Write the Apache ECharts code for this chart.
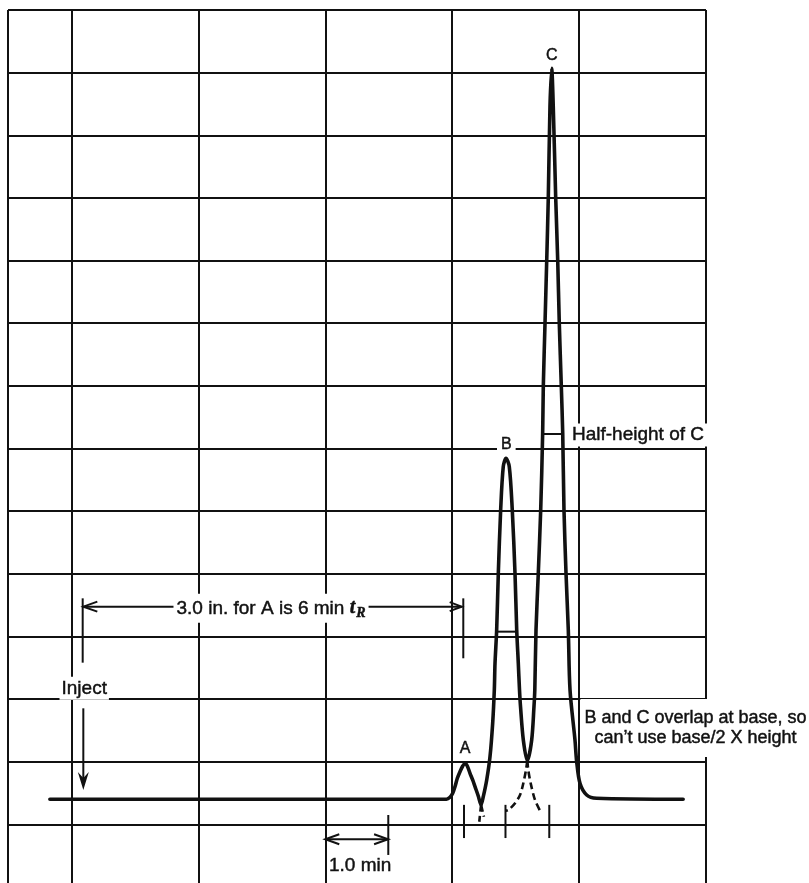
<!DOCTYPE html>
<html>
<head>
<meta charset="utf-8">
<title>Chromatogram – retention time and half-height width</title>
<script src="https://cdn.jsdelivr.net/npm/echarts@6/dist/echarts.min.js"></script>
<style>
html,body{margin:0;padding:0;background:#fff;}
#chart{width:809px;height:883px;}
</style>
</head>
<body>
<div id="chart"></div>
<script>
// ---- Chart-paper rulings (x in minutes after injection, y in chart divisions) ----
const gridTimes = [-1.2, -0.2, 1.8, 3.8, 5.8, 7.8, 9.8];

// ---- Recorder trace (pen deflection, chart divisions) ----
const traceTime = [-0.54, 5.71, 5.765, 5.808, 5.844, 5.881, 5.923, 5.966, 6.002, 6.038, 6.081, 6.123, 6.160, 6.211, 6.255,
  6.290, 6.344, 6.396, 6.438, 6.464, 6.475, 6.501, 6.527, 6.564, 6.605, 6.648, 6.700, 6.747, 6.790, 6.817, 6.842, 6.861, 6.877, 6.921, 6.984,
  7.053, 7.089, 7.102, 7.121, 7.157, 7.195, 7.226, 7.236, 7.263, 7.290, 7.315, 7.341, 7.368, 7.393, 7.431, 7.463, 7.488, 7.520, 7.542,
  7.562, 7.594, 7.630, 7.657, 7.735, 7.762, 7.814, 7.920, 8.077, 9.44];
const traceSignal = [0.40, 0.40, 0.431, 0.495, 0.600, 0.734, 0.839, 0.930, 0.974, 0.930, 0.814, 0.707, 0.600, 0.452, 0.31,
  0.440, 0.707, 1.079, 1.612, 2.144, 2.570, 3.102, 4.007, 5.017, 5.709, 5.843, 5.709, 5.017, 4.007, 3.102, 2.570, 2.144, 1.877, 1.346, 1.015,
  1.346, 1.877, 2.144, 3.102, 4.007, 5.017, 6.247, 6.986, 7.998, 9.009, 10.019, 11.456, 12.07, 11.456, 10.019, 9.009, 7.998, 6.986, 6.247,
  5.017, 4.007, 3.102, 2.144, 1.346, 0.999, 0.654, 0.467, 0.415, 0.40];

// ---- Dashed extrapolations of overlapped flanks ----
const extCLeftTime = [6.984, 6.963, 6.921, 6.869, 6.790, 6.690, 6.645];
const extCLeftSignal = [1.015, 0.867, 0.654, 0.467, 0.335, 0.230, 0.215];
const extBRightTime = [6.984, 6.999, 7.037, 7.105, 7.184];
const extBRightSignal = [1.015, 0.867, 0.654, 0.388, 0.217];
const extBLeftTime = [6.255, 6.227];
const extBLeftSignal = [0.31, 0.04];
const extARightTime = [6.255, 6.300];
const extARightSignal = [0.31, 0.12];

// ---- Peak labels and peak-base tick marks ----
const peakNames = ['A', 'B', 'C'];
const peakLabelTime = [6.002, 6.653, 7.368];
const peakLabelSignal = [1.207, 6.063, 12.277];
const baseTickTimes = [5.986, 6.640, 7.330];
const baseTickSignal = [0.31, -0.22];

// ---- Half-height width bars [tStart, tEnd, signal] ----
const halfBarB = [6.511, 6.806, 3.075];
const halfBarC = [7.236, 7.531, 6.231];

const INK = '#111';
const FONT = '"Liberation Sans", Arial, Helvetica, sans-serif';
const SERIF = '"Liberation Serif", "DejaVu Serif", serif';
const pair = (xs, ys) => xs.map((x, i) => [x, ys[i]]);
const dashStyle = { color: INK, width: 2.6, type: [7, 4] };

const chart = echarts.init(document.getElementById('chart'), null, { renderer: 'canvas' });

const dashedSeries = (name, xs, ys) => ({
  name, type: 'line', data: pair(xs, ys), showSymbol: false, symbol: 'none', smooth: 0.3,
  lineStyle: dashStyle, silent: true, z: 4
});

const option = {
  animation: false,
  backgroundColor: '#fff',
  grid: { left: 8, top: 10, width: 698, height: 876.9, containLabel: false, outerBoundsMode: 'none' },
  xAxis: {
    type: 'value', min: -1.2, max: 9.8,
    axisLine: { show: false }, axisTick: { show: false }, axisLabel: { show: false }, splitLine: { show: false }
  },
  yAxis: {
    type: 'value', min: -1, max: 13, interval: 1,
    axisLine: { show: false }, axisTick: { show: false }, axisLabel: { show: false },
    splitLine: { show: true, lineStyle: { color: INK, width: 2 } }
  },
  series: [
    {
      name: 'rulings', type: 'line', data: [], silent: true, z: 1,
      markLine: {
        silent: true, symbol: 'none', label: { show: false }, animation: false,
        lineStyle: { color: INK, width: 2, type: 'solid' },
        emphasis: { disabled: true },
        data: gridTimes.map(v => ({ xAxis: v }))
      }
    },
    {
      name: 'trace', type: 'line', data: pair(traceTime, traceSignal),
      showSymbol: false, symbol: 'none', smooth: 0.3, silent: true, z: 5,
      lineStyle: { color: INK, width: 3.6, cap: 'round', join: 'round' }
    },
    dashedSeries('C left extension', extCLeftTime, extCLeftSignal),
    dashedSeries('B right extension', extBRightTime, extBRightSignal),
    dashedSeries('B left extension', extBLeftTime, extBLeftSignal),
    dashedSeries('A right extension', extARightTime, extARightSignal)
  ]
};
chart.setOption(option);

// ---- Annotations, positioned through the chart's own scales ----
const P = (t, y) => chart.convertToPixel({ seriesIndex: 1 }, [t, y]);
const g = [];
function seg(a, b, w) {
  const p = P(a[0], a[1]), q = P(b[0], b[1]);
  g.push({ type: 'line', z: 100, silent: true,
    shape: { x1: p[0], y1: p[1], x2: q[0], y2: q[1] },
    style: { stroke: INK, lineWidth: w || 2 } });
}
function head(tipD, fromD, L, W, filled, notch) {
  const tip = P(tipD[0], tipD[1]), from = P(fromD[0], fromD[1]);
  let dx = from[0] - tip[0], dy = from[1] - tip[1];
  const n = Math.hypot(dx, dy); dx /= n; dy /= n;
  const nx = -dy, ny = dx;
  const b1 = [tip[0] + dx * L + nx * W, tip[1] + dy * L + ny * W];
  const b2 = [tip[0] + dx * L - nx * W, tip[1] + dy * L - ny * W];
  if (filled) {
    g.push({ type: 'polygon', z: 101, silent: true,
      shape: { points: [tip, b1, [tip[0] + dx * notch, tip[1] + dy * notch], b2] },
      style: { fill: INK } });
  } else {
    g.push({ type: 'polyline', z: 101, silent: true,
      shape: { points: [b1, tip, b2] },
      style: { stroke: INK, lineWidth: 2, fill: 'none' } });
  }
}
function txt(t, y, text, o) {
  o = o || {};
  const p = P(t, y);
  g.push({ type: 'text', z: 110, silent: true, x: p[0], y: p[1],
    style: { text, fill: INK, stroke: INK, lineWidth: 0.45, fontFamily: FONT, fontSize: o.size || 19,
      align: o.align || 'left', verticalAlign: 'middle', lineHeight: o.lh,
      backgroundColor: '#fff', padding: o.pad || [1, 2], rich: o.rich } });
}

// 3.0 in. retention-time arrow (injection to peak A)
seg([-0.023, 3.607], [-0.023, 2.580]);
seg([5.975, 3.607], [5.975, 2.650]);
seg([-0.013, 3.474], [5.950, 3.474]);
head([-0.013, 3.474], [5.950, 3.474], 14, 5, false);
head([5.950, 3.474], [-0.013, 3.474], 12, 4.5, false);
txt(1.408, 3.448, '3.0 in. for A is 6 min {t|t}{r|R}', {
  pad: [2, 3],
  rich: {
    t: { fontFamily: SERIF, fontStyle: 'italic', fontWeight: 'bold', fontSize: 20, fill: INK },
    r: { fontFamily: SERIF, fontStyle: 'italic', fontWeight: 'bold', fontSize: 14, fill: INK, padding: [11, 0, 0, 1] }
  }
});

// Inject
txt(0.001, 2.171, 'Inject', { align: 'center', pad: [2, 2] });
seg([-0.013, 1.851], [-0.013, 0.65]);
head([-0.013, 0.547], [-0.013, 1.851], 18, 5.5, true, 12);

// 1.0 min scale
seg([4.793, 0.148], [4.793, -0.490]);
seg([3.80, -0.239], [4.79, -0.239]);
head([3.80, -0.239], [4.79, -0.239], 14, 5, false);
head([4.79, -0.239], [3.80, -0.239], 14, 5, false);
txt(3.843, -0.666, '1.0 min', { pad: [1, 1] });

// Base ticks under the peaks
baseTickTimes.forEach(t => seg([t, baseTickSignal[0]], [t, baseTickSignal[1]]));

// Half-height bars
seg([halfBarB[0], halfBarB[2]], [halfBarB[1], halfBarB[2]]);
seg([halfBarC[0], halfBarC[2]], [halfBarC[1], halfBarC[2]]);
txt(7.641, 6.215, 'Half-height of C', { pad: [2, 3] });

// Peak names
peakNames.forEach((n, i) => txt(peakLabelTime[i], peakLabelSignal[i], n, { align: 'center', size: 16, pad: [1, 4] }));

// Note
txt(9.634, 1.537, 'B and C overlap at base, so\ncan\u2019t use base/2 X height', { align: 'center', size: 18, lh: 20.5, pad: [5, 4, 12, 4] });

chart.setOption({ graphic: { elements: g } });
</script>
</body>
</html>
